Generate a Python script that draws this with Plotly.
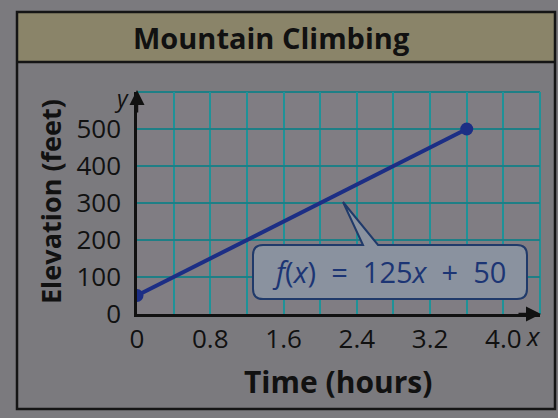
import plotly.graph_objects as go

# Elevation of the climb over time: f(x) = 125x + 50
hours = [0, 3.6]
elevation = [50, 500]

x_tick_vals = [0, 0.4, 0.8, 1.2, 1.6, 2.0, 2.4, 2.8, 3.2, 3.6, 4.0, 4.4]
x_tick_text = ["0", "", "0.8", "", "1.6", "", "2.4", "", "3.2", "", "4.0", ""]
y_tick_vals = [0, 100, 200, 300, 400, 500, 600]
y_tick_text = ["0", "100", "200", "300", "400", "500", ""]

title_text = "Mountain Climbing"
x_title = "Time (hours)"
y_title = "Elevation (feet)"
equation = "<i>f</i>(<i>x</i>)&nbsp;&nbsp;=&nbsp;&nbsp;125<i>x</i>&nbsp;&nbsp;+&nbsp;&nbsp;50"

W, H = 558, 418
L, R, T, B = 137, 540, 92, 314  # plot area in pixels

FONT = "Open Sans"
INK = "#111111"
TEAL_V = "#1f9298"
TEAL_H = "#1f7f86"
NAVY = "#1c2e85"


def px(x):
    return (x - L) / (R - L)


def py(y):
    return (B - y) / (B - T)


fig = go.Figure()
fig.add_trace(go.Scatter(
    x=hours, y=elevation, mode="lines+markers",
    line=dict(color=NAVY, width=4),
    marker=dict(color=NAVY, size=13),
    hoverinfo="skip", showlegend=False,
))

shapes = []
# outer frame and title band
shapes.append(dict(type="rect", xref="paper", yref="paper",
                   x0=px(17), x1=px(555), y0=py(12), y1=py(62),
                   fillcolor="#8a8469", line=dict(width=0), layer="below"))
shapes.append(dict(type="line", xref="paper", yref="paper",
                   x0=px(17), x1=px(555), y0=py(62), y1=py(62),
                   line=dict(color="#151515", width=2.5)))
shapes.append(dict(type="rect", xref="paper", yref="paper",
                   x0=px(17), x1=px(555), y0=py(12), y1=py(409),
                   line=dict(color="#151515", width=2.5)))
# teal border of the grid along the top and right
shapes.append(dict(type="line", xref="paper", yref="paper",
                   x0=0, x1=1, y0=1, y1=1, line=dict(color=TEAL_H, width=2), layer="below"))
shapes.append(dict(type="line", xref="paper", yref="paper",
                   x0=1, x1=1, y0=0, y1=1, line=dict(color=TEAL_V, width=2), layer="below"))

# rounded callout box with pointer
bx0, bx1, by0, by1, r = 253, 527, 245, 299, 10
pts = [
    ("M", bx0 + r, by0), ("L", 363, by0), ("L", 343, 202), ("L", 378, by0),
    ("L", bx1 - r, by0), ("Q", bx1, by0, bx1, by0 + r),
    ("L", bx1, by1 - r), ("Q", bx1, by1, bx1 - r, by1),
    ("L", bx0 + r, by1), ("Q", bx0, by1, bx0, by1 - r),
    ("L", bx0, by0 + r), ("Q", bx0, by0, bx0 + r, by0),
]
path = ""
for p in pts:
    cmd, coords = p[0], p[1:]
    xy = []
    for i in range(0, len(coords), 2):
        xy.append(f"{px(coords[i]):.5f},{py(coords[i + 1]):.5f}")
    path += cmd + " ".join(xy) + " "
path += "Z"
shapes.append(dict(type="path", xref="paper", yref="paper", path=path,
                   fillcolor="#8a929f", line=dict(color="#203a6a", width=2)))


def label(text, x, y, size, color=INK, angle=0):
    return dict(text=text, xref="paper", yref="paper", x=px(x), y=py(y),
                xanchor="center", yanchor="middle", showarrow=False,
                textangle=angle, font=dict(family=FONT, size=size, color=color))


annotations = [
    label(f"<b>{title_text}</b>", 271, 37, 29),
    label(f"<b>{x_title}</b>", 338, 381, 30),
    label(f"<b>{y_title}</b>", 50, 202, 27, angle=-90),
    label(equation, 389, 271, 29, color="#1c3574"),
    label("<i>x</i>", 533, 336, 26),
    label("<i>y</i>", 121, 98, 23),
    # arrowheads on the axes
    dict(text="", xref="paper", yref="paper", x=px(541), y=0,
         ax=-24, ay=0, showarrow=True, arrowhead=2, arrowsize=1.2,
         arrowwidth=2.5, arrowcolor="#111111", standoff=0),
    dict(text="", xref="paper", yref="paper", x=0, y=py(90),
         ax=0, ay=24, showarrow=True, arrowhead=2, arrowsize=1.2,
         arrowwidth=2.5, arrowcolor="#111111", standoff=0),
]

fig.update_layout(
    width=W, height=H,
    margin=dict(l=L, r=W - R, t=T, b=H - B, pad=0),
    paper_bgcolor="#7b7a7e",
    plot_bgcolor="#807d83",
    font=dict(family=FONT, color=INK),
    shapes=shapes,
    annotations=annotations,
    showlegend=False,
)
fig.update_xaxes(
    range=[0, 4.4], tickmode="array", tickvals=x_tick_vals, ticktext=x_tick_text,
    showgrid=True, gridcolor=TEAL_V, gridwidth=2, zeroline=False,
    showline=True, linecolor="#111111", linewidth=2.5, layer="below traces",
    ticks="outside", ticklen=0, tickcolor="rgba(0,0,0,0)",
    tickfont=dict(family=FONT, size=26, color=INK), fixedrange=True,
)
fig.update_yaxes(
    range=[0, 600], tickmode="array", tickvals=y_tick_vals, ticktext=y_tick_text,
    showgrid=True, gridcolor=TEAL_H, gridwidth=2, zeroline=False,
    showline=True, linecolor="#111111", linewidth=2.5, layer="below traces",
    ticks="outside", ticklen=8, tickcolor="rgba(0,0,0,0)",
    tickfont=dict(family=FONT, size=26, color=INK), fixedrange=True,
)

fig.write_html("out.html")
